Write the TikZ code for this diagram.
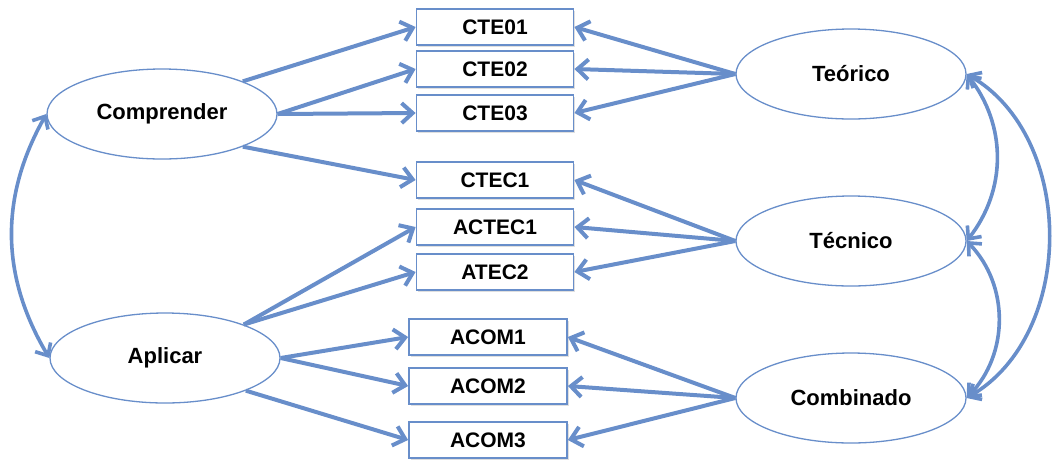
\documentclass[tikz,border=0pt]{standalone}
\usepackage{fontspec}
\setmainfont{Liberation Sans}
\usetikzlibrary{shapes,arrows.meta,shadows}
\definecolor{linkblue}{RGB}{104,142,202}

\begin{document}
\begin{tikzpicture}[x=1pt,y=-1pt,
    box/.style={draw=linkblue, line width=1.8pt, fill=white, minimum width=157pt, minimum height=36pt, inner sep=0pt,
        font=\bfseries\fontsize{21}{25}\selectfont,
        drop shadow={shadow xshift=1.5pt, shadow yshift=-2pt, opacity=0.25}},
    factor/.style={ellipse, draw=linkblue, line width=1.3pt, fill=white, minimum width=230pt, minimum height=90pt, inner sep=0pt,
        font=\bfseries\fontsize{22}{26}\selectfont},
    link/.style={draw=linkblue, line width=4pt, -{Straight Barb[length=11pt,width=20pt]}},
    corr/.style={draw=linkblue, line width=3.6pt, {Straight Barb[length=10pt,width=18pt]}-{Straight Barb[length=10pt,width=18pt]}}]
\useasboundingbox (0,0) rectangle (1052,459);

% items
\foreach \n/\t/\y in {cte01/CTE01/27, cte02/CTE02/69, cte03/CTE03/113, ctec1/CTEC1/180, actec1/ACTEC1/227, atec2/ATEC2/272} {
    \node[box] (\n) at (495,\y) {\t};
}
\foreach \n/\t/\y in {acom1/ACOM1/337, acom2/ACOM2/386, acom3/ACOM3/440} {
    \node[box, minimum width=158pt] (\n) at (488,\y) {\t};
}

% factors
\node[factor] (comp) at (162,114) {Comprender};
\node[factor] (apl) at (165,358) {Aplicar};
\node[factor] (teo) at (851,74) {Te\'orico};
\node[factor] (tec) at (851,241) {T\'ecnico};
\node[factor] (comb) at (851,398) {Combinado};

% loadings
\draw[link] (comp.22) -- (cte01.west);
\draw[link] (comp.east) -- (cte02.west);
\draw[link] (comp.east) -- (cte03.west);
\draw[link] (comp.-22) -- (ctec1.west);
\draw[link] (apl.23) -- (actec1.west);
\draw[link] (apl.23) -- (atec2.west);
\draw[link] (apl.east) -- (acom1.west);
\draw[link] (apl.east) -- (acom2.west);
\draw[link] (apl.-22) -- (acom3.west);
\foreach \b in {cte01,cte02,cte03} {
    \draw[link] (teo.west) -- (\b.east);
}
\foreach \b in {ctec1,actec1,atec2} {
    \draw[link] (tec.west) -- (\b.east);
}
\foreach \b in {acom1,acom2,acom3} {
    \draw[link] (comb.west) -- (\b.east);
}

% covariances
\draw[corr] (comp.west) to[bend right=30] (apl.west);
\draw[corr] (teo.east) to[bend left=38] (tec.east);
\draw[corr] (tec.east) to[bend left=44] (comb.east);
\draw[corr] (teo.east) to[bend left=60] (comb.east);
\end{tikzpicture}
\end{document}
